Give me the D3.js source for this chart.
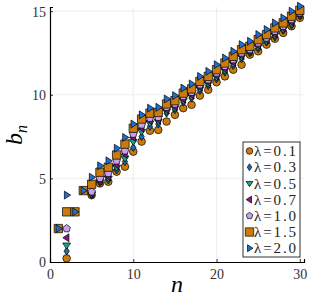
<!DOCTYPE html>
<html>
<head>
<meta charset="utf-8">
<script src="https://cdn.jsdelivr.net/npm/d3@7"></script>
<style>
  body { margin: 0; background: #fff; }
  text { font-family: "Liberation Serif", "DejaVu Serif", serif; }
</style>
</head>
<body>
<svg id="chart" width="311" height="298"></svg>
<script>
// n = 1..30, null where a series has no point
var nValues = d3.range(1, 31);
var lambdaLabels = ["λ=0.1", "λ=0.3", "λ=0.5", "λ=0.7", "λ=1.0", "λ=1.5", "λ=2.0"];
var xTicks = [0, 10, 20, 30];
var yTicks = [0, 5, 10, 15];

var b01 = [null, 0.22, null, null, 4.0, 4.7, 4.8, 5.4, 5.7, 6.6, 7.2, 7.85, 7.9, 8.4, 8.8, 9.2, 9.4, 9.95, 10.3, 10.75, 11.1, 11.5, 11.8, 12.4, 12.6, 13.0, 13.35, 13.7, 14.1, 14.6];
var b03 = [null, 0.65, null, null, 4.0, 4.75, 4.9, 5.5, 6.0, 6.85, 7.5, 8.1, 8.25, 8.9, 9.1, 9.55, 9.8, 10.25, 10.55, 10.95, 11.35, 11.75, 12.15, 12.5, 12.75, 13.15, 13.45, 13.85, 14.15, 14.7];
var b05 = [null, 1.0, null, null, 4.05, 4.8, 5.0, 5.65, 6.2, 7.2, 7.8, 8.3, 8.4, 9.0, 9.2, 9.65, 9.9, 10.35, 10.65, 11.05, 11.45, 11.85, 12.25, 12.55, 12.85, 13.2, 13.55, 13.9, 14.25, 14.75];
var b07 = [null, 1.45, null, null, 4.1, 4.85, 5.1, 5.8, 6.45, 7.45, 8.0, 8.45, 8.5, 9.1, 9.3, 9.75, 10.0, 10.45, 10.75, 11.15, 11.55, 11.95, 12.35, 12.6, 12.95, 13.3, 13.65, 14.0, 14.35, 14.8];
var b10 = [null, 2.0, null, null, 4.2, 5.0, 5.3, 6.05, 6.65, 7.65, 8.2, 8.6, 8.65, 9.25, 9.45, 9.9, 10.15, 10.6, 10.9, 11.3, 11.7, 12.1, 12.5, 12.7, 13.1, 13.4, 13.8, 14.1, 14.5, 14.9];
var b15 = [2.0, 3.0, 3.0, 4.27, 4.65, 5.37, 5.67, 6.4, 7.05, 8.0, 8.55, 8.9, 8.95, 9.45, 9.65, 10.1, 10.35, 10.8, 11.1, 11.5, 11.9, 12.3, 12.7, 12.9, 13.3, 13.6, 14.0, 14.3, 14.7, 15.05];
var b20 = [2.0, 4.0, 3.0, 4.27, 5.07, 5.75, 6.05, 6.8, 7.45, 8.25, 8.8, 9.2, 9.25, 9.75, 9.95, 10.4, 10.65, 11.1, 11.4, 11.8, 12.2, 12.6, 13.0, 13.2, 13.6, 13.9, 14.3, 14.6, 15.0, 15.3];

var seriesValues = [b01, b03, b05, b07, b10, b15, b20];
var markerShapes = ["circle", "diamond", "dtriangle", "ltriangle", "pentagon", "square", "rtriangle"];
var markerColors = ["#c97c0c", "#1a6cb3", "#17a589", "#87187a", "#c9a0ef", "#c97c0c", "#1d6fd6"];

var svg = d3.select("#chart");

var x = d3.scaleLinear().domain([0, 30.5]).range([50, 304]);
var y = d3.scaleLinear().domain([0, 15.25]).range([262, 7]);

// marker path, centred on 0,0
function markerPath(shape, r) {
    var pts;
    if (shape === "circle") {
        return d3.symbol().type(d3.symbolCircle).size(Math.PI * r * r)();
    } else if (shape === "square") {
        pts = [[-r * 1.1, -r * 1.1], [r * 1.1, -r * 1.1], [r * 1.1, r * 1.1], [-r * 1.1, r * 1.1]];
    } else if (shape === "diamond") {
        pts = [[0, -r * 1.05], [r * 0.7, 0], [0, r * 1.05], [-r * 0.7, 0]];
    } else if (shape === "dtriangle") {
        pts = [[-r * 1.05, -r * 0.6], [r * 1.05, -r * 0.6], [0, r * 1.0]];
    } else if (shape === "ltriangle") {
        pts = [[-r * 1.0, 0], [r * 0.6, -r * 1.05], [r * 0.6, r * 1.05]];
    } else if (shape === "rtriangle") {
        pts = [[r * 1.05, 0], [-r * 0.6, -r * 1.05], [-r * 0.6, r * 1.05]];
    } else if (shape === "pentagon") {
        pts = d3.range(5).map(function (k) {
            var a = -Math.PI / 2 + k * 2 * Math.PI / 5;
            return [r * 1.05 * Math.cos(a), r * 1.05 * Math.sin(a)];
        });
    }
    return "M" + pts.map(function (p) { return p[0].toFixed(2) + "," + p[1].toFixed(2); }).join("L") + "Z";
}

// grid
svg.append("g").selectAll("line.vgrid")
    .data(xTicks.slice(1))
    .enter().append("line")
    .attr("x1", function (d) { return x(d); })
    .attr("x2", function (d) { return x(d); })
    .attr("y1", y(15.25)).attr("y2", y(0))
    .attr("stroke", "#e6e6e6").attr("stroke-width", 0.7);
svg.append("g").selectAll("line.hgrid")
    .data(yTicks.slice(1))
    .enter().append("line")
    .attr("x1", x(0)).attr("x2", x(30.5))
    .attr("y1", function (d) { return y(d); })
    .attr("y2", function (d) { return y(d); })
    .attr("stroke", "#e6e6e6").attr("stroke-width", 0.7);

// axes
var xAxis = svg.append("g")
    .attr("transform", "translate(0," + y(0) + ")")
    .call(d3.axisBottom(x).tickValues(xTicks).tickSize(-3).tickPadding(7).tickFormat(d3.format("d")));
var yAxis = svg.append("g")
    .attr("transform", "translate(" + x(0) + ",0)")
    .call(d3.axisLeft(y).tickValues(yTicks).tickSize(-3).tickPadding(4).tickFormat(d3.format("d")));
[xAxis, yAxis].forEach(function (ax) {
    ax.select(".domain").attr("stroke", "#000").attr("stroke-width", 1.2);
    ax.selectAll(".tick line").attr("stroke", "#000").attr("stroke-width", 0.8);
    ax.selectAll(".tick text")
        .attr("font-family", "Liberation Serif, serif")
        .attr("font-size", "14px")
        .attr("fill", "#333");
});
yAxis.selectAll(".tick text").attr("dy", "0.35em");

// axis labels
svg.append("text")
    .attr("x", x(15.25)).attr("y", 292)
    .attr("text-anchor", "middle")
    .attr("font-size", "24px").attr("font-style", "italic")
    .text("n");
var yl = svg.append("text")
    .attr("transform", "translate(22," + y(7.6) + ") rotate(-90)")
    .attr("text-anchor", "middle")
    .attr("font-size", "24px").attr("font-style", "italic");
yl.append("tspan").text("b");
yl.append("tspan").attr("font-size", "16px").attr("dy", "5").text("n");

// points, series in order so later ones draw on top
seriesValues.forEach(function (vals, i) {
    var pts = nValues.map(function (n, j) { return { n: n, b: vals[j] }; })
        .filter(function (d) { return d.b !== null; });
    svg.append("g").selectAll("path")
        .data(pts)
        .enter().append("path")
        .attr("d", markerPath(markerShapes[i], 3.8))
        .attr("transform", function (d) { return "translate(" + x(d.n) + "," + y(d.b) + ")"; })
        .attr("fill", markerColors[i])
        .attr("stroke", "#000")
        .attr("stroke-width", 0.7);
});

// legend
var legX = 243, legY = 142, legW = 57, legH = 115, rowH = 16.2;
svg.append("rect")
    .attr("x", legX).attr("y", legY).attr("width", legW).attr("height", legH)
    .attr("fill", "#fff").attr("stroke", "#333").attr("stroke-width", 1);
var leg = svg.append("g").selectAll("g")
    .data(lambdaLabels)
    .enter().append("g")
    .attr("transform", function (d, i) { return "translate(" + (legX + 6.5) + "," + (legY + 9 + i * rowH) + ")"; });
leg.append("path")
    .attr("d", function (d, i) { return markerPath(markerShapes[i], i === 5 ? 3.8 : 3.3); })
    .attr("fill", function (d, i) { return markerColors[i]; })
    .attr("stroke", "#000").attr("stroke-width", 0.7);
leg.append("text")
    .attr("x", 4.5).attr("dy", "0.35em")
    .attr("font-size", "15px")
    .attr("fill", "#222")
    .attr("textLength", 42)
    .text(function (d) { return d; });
</script>
</body>
</html>
